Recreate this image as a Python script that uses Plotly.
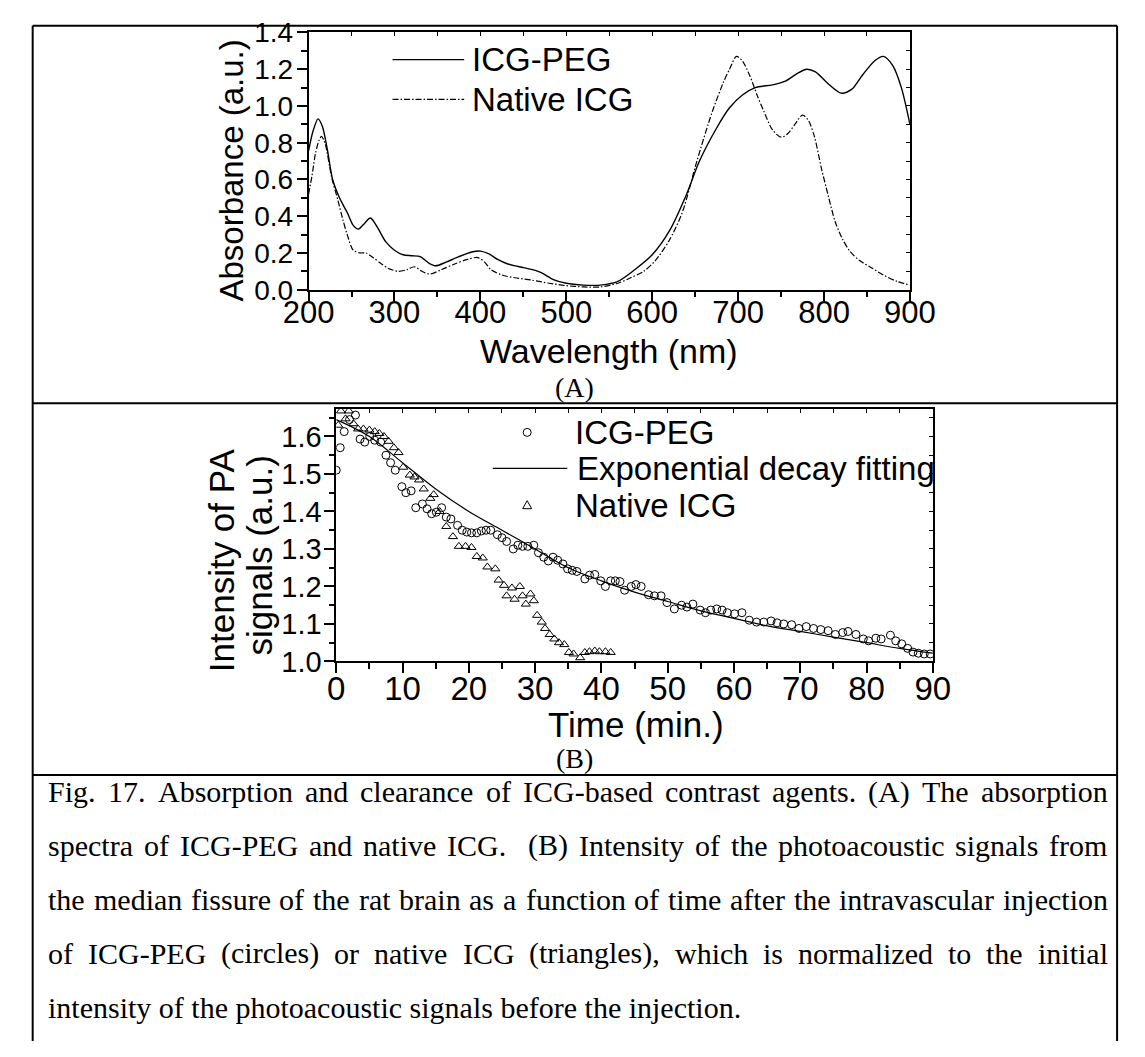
import plotly.graph_objects as go

W, H = 1145, 1057

# ---------------- Panel A: absorption spectra ----------------
wl_peg = [200, 205, 211, 216, 222, 228, 236, 245, 252, 258, 264, 272, 280, 290, 300,
          310, 320, 330, 340, 348, 360, 375, 390, 400, 410, 420, 432, 450, 464, 472,
          485, 500, 520, 540, 560, 580, 600, 620, 640, 655, 675, 690, 705, 720, 740,
          755, 770, 780, 790, 805, 820, 832, 845, 860, 869, 880, 890, 900]
abs_peg = [0.755, 0.86, 0.93, 0.89, 0.76, 0.60, 0.50, 0.42, 0.35, 0.33, 0.355, 0.39, 0.34, 0.26, 0.215,
           0.19, 0.185, 0.18, 0.145, 0.13, 0.15, 0.18, 0.205, 0.21, 0.195, 0.165, 0.14, 0.12, 0.105, 0.09,
           0.055, 0.035, 0.025, 0.025, 0.045, 0.11, 0.19, 0.32, 0.52, 0.70, 0.88, 0.99, 1.06, 1.10, 1.115,
           1.135, 1.18, 1.20, 1.185, 1.12, 1.07, 1.09, 1.17, 1.25, 1.27, 1.22, 1.10, 0.90]

wl_native = [200, 204, 208, 212, 215, 219, 227, 234, 240, 245, 252, 260, 267, 275, 285,
             293, 305, 315, 323, 332, 341, 355, 370, 385, 397, 405, 412, 425, 440, 460,
             480, 500, 520, 540, 560, 575, 590, 603, 620, 635, 652, 670, 683, 690, 698,
             705, 714, 722, 730, 740, 750, 758, 766, 775, 782, 789, 797, 805, 813, 821,
             830, 841, 855, 869, 885, 900]
abs_native = [0.52, 0.62, 0.74, 0.81, 0.835, 0.80, 0.61, 0.49, 0.38, 0.30, 0.215, 0.20, 0.20, 0.175, 0.14,
              0.115, 0.10, 0.11, 0.125, 0.10, 0.085, 0.11, 0.14, 0.165, 0.175, 0.15, 0.11, 0.08, 0.065, 0.052,
              0.035, 0.022, 0.015, 0.015, 0.035, 0.065, 0.10, 0.155, 0.27, 0.42, 0.70, 0.97, 1.13, 1.20, 1.27,
              1.245, 1.16, 1.06, 0.97, 0.87, 0.83, 0.85, 0.90, 0.95, 0.92, 0.83, 0.66, 0.51, 0.37, 0.28,
              0.21, 0.16, 0.12, 0.08, 0.045, 0.025]

# ---------------- Panel B: PA signal intensity over time ----------------
t_peg = [0.0, 0.6, 1.2, 2.0, 2.9, 3.6, 4.3, 5.05, 5.8, 6.7, 7.5, 8.2, 8.9, 9.9, 10.5,
         11.3, 12.0, 13.0, 13.7, 14.4, 15.1, 15.9, 16.6, 17.3, 18.3, 19.0, 19.7, 20.4, 21.2, 21.9,
         22.6, 23.3, 24.3, 25.0, 25.7, 26.7, 27.4, 28.1, 28.9, 29.8, 30.5, 31.3, 32.0, 32.7, 33.4,
         34.2, 34.9, 35.6, 36.3, 37.5, 38.2, 39.0, 39.9, 40.6, 41.4, 42.1, 42.8, 43.5, 44.5, 45.2,
         46.0, 47.1, 48.0, 49.0, 49.9, 51.0, 52.1, 52.9, 53.8, 54.9, 55.7, 56.5, 57.4, 58.2, 59.0,
         60.1, 61.2, 62.3, 63.4, 64.5, 65.6, 66.5, 67.5, 68.7, 69.8, 70.9, 72.0, 73.1, 74.2, 75.3,
         76.4, 77.2, 78.4, 79.5, 80.3, 81.4, 82.2, 83.6, 84.4, 85.3, 86.2, 87.0, 87.8, 88.7, 89.6]
pa_peg = [1.51, 1.57, 1.613, 1.645, 1.657, 1.593, 1.585, 1.60, 1.59, 1.585, 1.55, 1.53, 1.51, 1.466, 1.45,
          1.455, 1.41, 1.42, 1.407, 1.394, 1.398, 1.41, 1.385, 1.38, 1.363, 1.35, 1.345, 1.343, 1.343, 1.348,
          1.35, 1.35, 1.338, 1.33, 1.32, 1.30, 1.31, 1.307, 1.307, 1.31, 1.29, 1.278, 1.268, 1.278, 1.27,
          1.26, 1.247, 1.243, 1.24, 1.22, 1.23, 1.232, 1.215, 1.20, 1.215, 1.215, 1.213, 1.19, 1.20, 1.205,
          1.20, 1.178, 1.175, 1.175, 1.157, 1.14, 1.15, 1.145, 1.153, 1.137, 1.13, 1.137, 1.14, 1.137, 1.13,
          1.127, 1.13, 1.11, 1.105, 1.105, 1.108, 1.103, 1.10, 1.098, 1.088, 1.093, 1.088, 1.085, 1.082, 1.072,
          1.077, 1.08, 1.072, 1.06, 1.055, 1.062, 1.06, 1.07, 1.055, 1.047, 1.035, 1.025, 1.022, 1.02, 1.02]

t_fit = [0, 5, 10, 15, 20, 25, 30, 35, 40, 45, 50, 55, 60, 65, 70, 75, 80, 85, 90]
pa_fit = [1.645, 1.60, 1.53, 1.46, 1.40, 1.35, 1.30, 1.25, 1.215, 1.185, 1.16, 1.135, 1.115,
          1.095, 1.08, 1.065, 1.05, 1.035, 1.022]

t_native = [0.3, 0.7, 1.4, 1.9, 2.6, 3.3, 4.1, 5.0, 5.8, 6.5, 7.2, 7.9, 8.7, 9.4, 10.1,
            11.1, 11.8, 12.5, 13.2, 14.2, 14.7, 15.6, 16.6, 17.6, 18.5, 19.5, 20.4, 21.2, 22.1, 22.8,
            24.0, 24.5, 25.3, 25.7, 26.5, 26.9, 27.7, 28.1, 28.6, 29.3, 29.8, 30.3, 31.0, 31.5, 32.2,
            32.9, 33.6, 34.4, 35.1, 35.8, 36.8, 37.5, 38.2, 39.0, 39.7, 40.6, 41.4]
pa_native = [1.63, 1.668, 1.647, 1.668, 1.634, 1.62, 1.62, 1.617, 1.613, 1.608, 1.60, 1.587, 1.57, 1.557, 1.518,
             1.497, 1.492, 1.484, 1.46, 1.435, 1.445, 1.40, 1.36, 1.333, 1.307, 1.307, 1.304, 1.28, 1.276, 1.252,
             1.247, 1.217, 1.203, 1.175, 1.196, 1.166, 1.20, 1.175, 1.153, 1.18, 1.162, 1.123, 1.105, 1.088, 1.072,
             1.06, 1.05, 1.045, 1.024, 1.02, 1.01, 1.024, 1.026, 1.028, 1.026, 1.026, 1.024]

a_xticks = [200, 300, 400, 500, 600, 700, 800, 900]
a_yticks = [0.0, 0.2, 0.4, 0.6, 0.8, 1.0, 1.2, 1.4]
b_xticks = [0, 10, 20, 30, 40, 50, 60, 70, 80, 90]
b_yticks = [1.0, 1.1, 1.2, 1.3, 1.4, 1.5, 1.6]

caption_lines = [
    "Fig. 17. Absorption and clearance of ICG-based contrast agents. (A) The absorption",
    "spectra of ICG-PEG and native ICG.  (B) Intensity of the photoacoustic signals from",
    "the median fissure of the rat brain as a function of time after the intravascular injection",
    "of ICG-PEG (circles) or native ICG (triangles), which is normalized to the initial",
    "intensity of the photoacoustic signals before the injection.",
]

SANS = "Liberation Sans, Arial, sans-serif"
SERIF = "Liberation Serif, Times New Roman, serif"


def px(x):
    return x / W


def py(y):
    return 1 - y / H


fig = go.Figure()

# spectra
fig.add_trace(go.Scatter(x=wl_peg, y=abs_peg, mode="lines", name="ICG-PEG",
                         line=dict(color="black", width=1.4, shape="spline", smoothing=0.8),
                         xaxis="x", yaxis="y", showlegend=False))
fig.add_trace(go.Scatter(x=wl_native, y=abs_native, mode="lines", name="Native ICG",
                         line=dict(color="black", width=1.2, shape="spline", smoothing=0.8,
                                   dash="6px,2px,1.5px,2px"),
                         xaxis="x", yaxis="y", showlegend=False))

# clearance curves
fig.add_trace(go.Scatter(x=t_fit, y=pa_fit, mode="lines", name="Exponential decay fitting",
                         line=dict(color="black", width=1.2, shape="spline"),
                         xaxis="x2", yaxis="y2", showlegend=False))
fig.add_trace(go.Scatter(x=t_peg, y=pa_peg, mode="markers", name="ICG-PEG",
                         marker=dict(symbol="circle-open", size=8, color="black", line=dict(width=1)),
                         xaxis="x2", yaxis="y2", showlegend=False))
fig.add_trace(go.Scatter(x=t_native, y=pa_native, mode="markers", name="Native ICG",
                         marker=dict(symbol="triangle-up-open", size=8, color="black", line=dict(width=1)),
                         xaxis="x2", yaxis="y2", showlegend=False))

# empty traces so the mirrored tick axes get drawn
fig.add_trace(go.Scatter(x=[], y=[], xaxis="x3", yaxis="y3", showlegend=False, hoverinfo="skip"))
fig.add_trace(go.Scatter(x=[], y=[], xaxis="x4", yaxis="y4", showlegend=False, hoverinfo="skip"))

axis_common = dict(showgrid=False, zeroline=False, showline=True, linecolor="black", linewidth=1.5,
                   mirror=True, ticks="outside", tickcolor="black", tickwidth=1.5, ticklen=10,
                   tickmode="array")
inner_common = dict(showgrid=False, zeroline=False, showline=False, ticks="inside", tickcolor="black",
                    tickwidth=1, ticklen=4, showticklabels=False, tickmode="linear")

fig.update_layout(
    width=W, height=H, autosize=False,
    margin=dict(l=0, r=0, t=0, b=0, pad=0),
    paper_bgcolor="white", plot_bgcolor="rgba(0,0,0,0)",
    xaxis=dict(axis_common, domain=[px(296), px(926)], range=[200, 900], anchor="y",
               tickvals=a_xticks, ticktext=[str(v) for v in a_xticks], ticklabelstandoff=-16,
               tickfont=dict(family=SANS, size=31, color="black"),
               minor=dict(dtick=50, tick0=200, ticklen=6, ticks="outside", tickwidth=1.5, tickcolor="black")),
    yaxis=dict(axis_common, domain=[py(283), py(18)], range=[0, 1.4], anchor="x",
               tickvals=a_yticks, ticktext=[f"{v:.1f}" for v in a_yticks], ticklabelstandoff=-2,
               tickfont=dict(family=SANS, size=28, color="black"),
               minor=dict(dtick=0.1, tick0=0, ticklen=6, ticks="outside", tickwidth=1.5, tickcolor="black")),
    xaxis2=dict(axis_common, domain=[px(325), px(950)], range=[0, 90], anchor="y2",
                tickvals=b_xticks, ticktext=[str(v) for v in b_xticks], ticklabelstandoff=-13,
                tickfont=dict(family=SANS, size=33, color="black"),
                minor=dict(dtick=5, tick0=0, ticklen=6, ticks="outside", tickwidth=1.5, tickcolor="black")),
    yaxis2=dict(axis_common, domain=[py(666), py(406)], range=[1.0, 1.673], anchor="x2",
                tickvals=b_yticks, ticktext=[f"{v:.1f}" for v in b_yticks], ticklabelstandoff=-3,
                tickfont=dict(family=SANS, size=29, color="black"),
                minor=dict(dtick=0.05, tick0=1.0, ticklen=5, ticks="outside", tickwidth=1.5, tickcolor="black")),
    xaxis3=dict(inner_common, overlaying="x", side="top", anchor="y3", range=[200, 900], tick0=200, dtick=50),
    yaxis3=dict(inner_common, overlaying="y", side="right", anchor="x3", range=[0, 1.4], tick0=0, dtick=0.1),
    xaxis4=dict(inner_common, overlaying="x2", side="top", anchor="y4", range=[0, 90], tick0=0, dtick=5),
    yaxis4=dict(inner_common, overlaying="y2", side="right", anchor="x4", range=[1.0, 1.673], tick0=1.0, dtick=0.05),
)

shapes = []


def hline(x0, x1, y, width=2, dash=None):
    line = dict(color="black", width=width)
    if dash:
        line["dash"] = dash
    shapes.append(dict(type="line", xref="paper", yref="paper", x0=px(x0), x1=px(x1),
                       y0=py(y), y1=py(y), line=line))


def vline(x, y0, y1, width=2):
    shapes.append(dict(type="line", xref="paper", yref="paper", x0=px(x), x1=px(x),
                       y0=py(y0), y1=py(y1), line=dict(color="black", width=width)))


# frame of the figure table
hline(7, 1143, 11)
hline(7, 1143, 400)
hline(7, 1143, 783)
vline(7, 11, 1057)
vline(1143, 11, 1057)

# legend keys, panel A
hline(384, 459, 46, width=1.4)
hline(384, 459, 87, width=1.2, dash="6px,2px,1.5px,2px")
# legend keys, panel B
hline(489, 567, 467, width=1.2)
shapes.append(dict(type="circle", xref="paper", yref="paper", xsizemode="pixel", ysizemode="pixel",
                   xanchor=px(525), yanchor=py(430), x0=-4, x1=4, y0=-4, y1=4,
                   line=dict(color="black", width=1)))
shapes.append(dict(type="path", xref="paper", yref="paper", xsizemode="pixel", ysizemode="pixel",
                   xanchor=px(525), yanchor=py(505), path="M -4.5,-3.5 L 4.5,-3.5 L 0,4.5 Z",
                   line=dict(color="black", width=1)))

annotations = []


def text(x, y, s, size, family=SANS, xanchor="center", angle=0):
    annotations.append(dict(x=px(x), y=py(y), xref="paper", yref="paper", text=s, showarrow=False,
                            xanchor=xanchor, yanchor="middle", textangle=angle,
                            font=dict(family=family, size=size, color="black")))


# legend labels
text(465, 46, "ICG-PEG", 33, xanchor="left")
text(465, 87, "Native ICG", 33, xanchor="left")
text(573, 430, "ICG-PEG", 33, xanchor="left")
text(575, 467, "Exponential decay fitting", 33, xanchor="left")
text(573, 505, "Native ICG", 33, xanchor="left")

# axis titles
text(215, 160, "Absorbance (a.u.)", 33, angle=-90)
text(611, 346, "Wavelength (nm)", 34)
text(205, 562, "Intensity of PA", 35, angle=-90)
text(245, 557, "signals (a.u.)", 35, angle=-90)
text(639, 731, "Time (min.)", 35)

# panel letters
text(575, 384, "(A)", 28, family=SERIF)
text(575, 766, "(B)", 28, family=SERIF)

# caption, justified like the printed page
CAP_SIZE = 30
CAP_LEFT, CAP_RIGHT = 21, 1131
CAP_Y0, CAP_DY = 800, 55.5
# Times-compatible advance widths (1/1000 em); the serif face renders a little wider
WIDTH_SCALE = 1.045
TNR = {
    'a': 444, 'b': 500, 'c': 444, 'd': 500, 'e': 444, 'f': 333, 'g': 500, 'h': 500, 'i': 278,
    'j': 278, 'k': 500, 'l': 278, 'm': 778, 'n': 500, 'o': 500, 'p': 500, 'q': 500, 'r': 333,
    's': 389, 't': 278, 'u': 500, 'v': 500, 'w': 722, 'x': 500, 'y': 500, 'z': 444,
    'A': 722, 'B': 667, 'C': 667, 'E': 611, 'F': 556, 'G': 722, 'I': 333, 'P': 556, 'T': 611,
    '.': 250, ',': 250, '(': 333, ')': 333, '-': 333, ' ': 250,
}


def word_width(w):
    return sum(TNR.get(ch, 500) for ch in w) / 1000 * CAP_SIZE * WIDTH_SCALE


for i, line in enumerate(caption_lines):
    y = CAP_Y0 + i * CAP_DY
    if i == len(caption_lines) - 1:
        text(CAP_LEFT, y, line, CAP_SIZE, family=SERIF, xanchor="left")
        continue
    words = line.split(" ")
    widths = [word_width(w) for w in words]
    gap = (CAP_RIGHT - CAP_LEFT - sum(widths)) / (len(words) - 1)
    x = CAP_LEFT
    for w, wd in zip(words, widths):
        if w:
            text(x, y, w, CAP_SIZE, family=SERIF, xanchor="left")
        x += wd + gap

fig.update_layout(shapes=shapes, annotations=annotations)

fig.write_html("out.html")
